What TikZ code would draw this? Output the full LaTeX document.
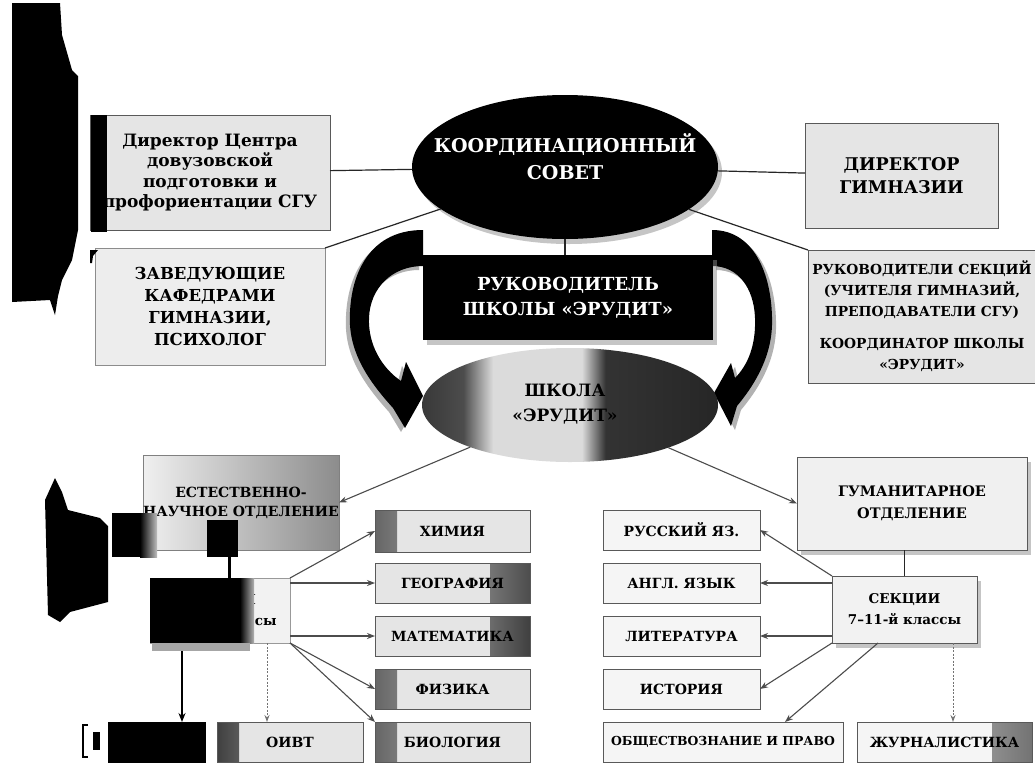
\documentclass[tikz,border=0pt]{standalone}
\usepackage{fontspec}
\setmainfont{DejaVu Serif}
\usetikzlibrary{arrows.meta,shapes.geometric,shadows,calc}
\pgfdeclarehorizontalshading{schoolsh}{100bp}{color(0bp)=(black!78); color(25bp)=(black!78); color(32bp)=(black!70); color(37bp)=(black!14); color(52bp)=(black!14); color(56bp)=(black!80); color(75bp)=(black!85); color(100bp)=(black!85)}
\begin{document}
\begin{tikzpicture}[x=1pt,y=-1pt,
  every node/.style={inner sep=0pt, outer sep=0pt},
  fs/.style n args={2}{font={\bfseries\fontsize{#1}{#2}\selectfont}},
  box/.style={draw=black!65, line width=0.9pt, fill=black!10, align=center, anchor=north west, font=\bfseries},
  wbox/.style={box, fill=black!4},
  conn/.style={line width=1.2pt, black!85},
  arr/.style={line width=1.1pt, black!70, -{Stealth[length=8pt,width=6pt]}},
  darr/.style={line width=1pt, black!55, dash pattern=on 2pt off 1.5pt, -{Stealth[length=7pt,width=5pt]}},
  shad/.style={drop shadow={shadow xshift=4pt, shadow yshift=-5pt, fill=black!45, opacity=0.5}},
  lstrip/.style={path picture={\shade[left color=black!#1, right color=black!8] (path picture bounding box.south west) rectangle ([xshift=22pt]path picture bounding box.north west);}},
  rstrip/.style={path picture={\shade[left color=black!8, right color=black!#1] ([xshift=-40pt]path picture bounding box.south east) rectangle (path picture bounding box.north east);}},
]
\useasboundingbox (0,0) rectangle (1035,766);
\fill[white] (0,0) rectangle (1035,766);

% ---------- upper level ----------
\node[box, minimum width=240pt, minimum height=115pt, fs={17}{20.5}] (dcp) at (90,115) {Директор Центра\\довузовской\\подготовки и\\профориентации СГУ};
\node[box, fill=black!7, draw=black!45, minimum width=230pt, minimum height=117pt, fs={16.5}{22}] (zav) at (95,248) {ЗАВЕДУЮЩИЕ\\КАФЕДРАМИ\\ГИМНАЗИИ,\\ПСИХОЛОГ};
\node[box, minimum width=193pt, minimum height=105pt, fs={17.5}{23}] (dir) at (805,123) {ДИРЕКТОР\\ГИМНАЗИИ};
\node[box, minimum width=228pt, minimum height=133pt, fs={13.8}{21}] (rukov) at (808,250) {РУКОВОДИТЕЛИ СЕКЦИЙ\\(УЧИТЕЛЯ ГИМНАЗИЙ,\\ПРЕПОДАВАТЕЛИ СГУ)\\[11pt]КООРДИНАТОР ШКОЛЫ\\«ЭРУДИТ»};

\node[ellipse, fill=black, minimum width=306pt, minimum height=144pt, shad] (koord) at (565,167) {};
\node[text=white, fs={19}{27}, align=center] (koordt) at (565,157) {КООРДИНАЦИОННЫЙ\\СОВЕТ};

\draw[conn] (dcp) -- (koord);
\draw[conn] (zav.north east) -- (koord);
\draw[conn] (koord) -- (dir);
\draw[conn] (koord) -- (rukov.north west);

% ---------- curved arrows ----------
\fill[black!30] (419,234) .. controls (362,234) and (344,284) .. (346,329)
 .. controls (348,364) and (371,392) .. (389,412) -- (401,432) -- (419,400) -- (402,366) -- (397,385)
 .. controls (378,372) and (364,349) .. (365,322) .. controls (366,292) and (388,270) .. (419,270) -- cycle;
\fill[black] (423,230) .. controls (366,230) and (348,280) .. (350,325)
 .. controls (352,360) and (375,388) .. (393,408) -- (405,428) -- (423,396) -- (406,362) -- (401,381)
 .. controls (382,368) and (368,345) .. (369,318) .. controls (370,288) and (392,266) .. (423,266) -- cycle;
\fill[black!30] (716,234) .. controls (761,234) and (777,284) .. (776,329)
 .. controls (775,364) and (756,392) .. (741,410) -- (735,430) -- (718,397) -- (735,367) -- (739,382)
 .. controls (752,369) and (760,349) .. (759,322) .. controls (758,292) and (742,270) .. (716,270) -- cycle;
\fill[black] (712,230) .. controls (757,230) and (773,280) .. (772,325)
 .. controls (771,360) and (752,388) .. (737,406) -- (731,426) -- (714,393) -- (731,363) -- (735,378)
 .. controls (748,365) and (756,345) .. (755,318) .. controls (754,288) and (738,266) .. (712,266) -- cycle;

\node[rectangle, fill=black, minimum width=290pt, minimum height=85pt, anchor=north west, shad, text=white, fs={18}{25}, align=center] (lead) at (423,255) {РУКОВОДИТЕЛЬ\\ШКОЛЫ «ЭРУДИТ»};
\draw[conn] (koord.south) -- (koord.south |- lead.north);

\node[ellipse, shading=schoolsh, minimum width=296pt, minimum height=114pt] (school) at (570,405) {};
\node[fs={17}{25}, align=center] (schoolt) at (565,404) {ШКОЛА\\«ЭРУДИТ»};

% ---------- left branch ----------
\node[box, left color=black!6, right color=black!45, draw=black!50, minimum width=196pt, minimum height=95pt, fs={14}{19}] (est) at (143,455) {ЕСТЕСТВЕННО-\\НАУЧНОЕ ОТДЕЛЕНИЕ};
\draw[arr] (school) -- (est.east);

\node[box, fill=black!5, draw=black!40, minimum width=140pt, minimum height=65pt, fs={13.5}{21}] (sekL) at (150,578) {СЕКЦИИ\\7–11-й классы};
\draw[line width=3pt] ([xshift=9pt]sekL.north) -- ([xshift=9pt]sekL.north |- est.south);

\node[box, lstrip=60, minimum width=155pt, minimum height=42pt, fs={14}{16}] (him) at (375,510) {ХИМИЯ};
\node[box, lstrip=60, rstrip=70, minimum width=155pt, minimum height=40pt, fs={14}{16}] (geo) at (375,563) {ГЕОГРАФИЯ};
\node[box, lstrip=60, rstrip=75, minimum width=155pt, minimum height=40pt, fs={14}{16}] (mat) at (375,616) {МАТЕМАТИКА};
\node[box, lstrip=60, minimum width=155pt, minimum height=40pt, fs={14}{16}] (fiz) at (375,669) {ФИЗИКА};
\node[box, lstrip=60, minimum width=155pt, minimum height=40pt, fs={14}{16}] (bio) at (375,722) {БИОЛОГИЯ};

\node[box, fill=black, draw=black, minimum width=97pt, minimum height=40pt] (blk) at (108,722) {};
\node[box, lstrip=75, minimum width=146pt, minimum height=40pt, fs={14}{16}] (oivt) at (217,722) {ОИВТ};

\draw[arr] (sekL.north east) -- (him.west);
\draw[arr] (sekL.east |- geo.west) -- (geo.west);
\draw[arr] (sekL.east |- mat.west) -- (mat.west);
\draw[arr] (sekL.south east) -- (fiz.west);
\draw[arr] (sekL.south east) -- (bio.north west);
\draw[line width=2pt, -{Stealth[length=9pt,width=7pt]}] ([xshift=-38pt]sekL.south) -- ([xshift=25.5pt]blk.north);
\draw[darr] ([xshift=47pt]sekL.south) -- ([xshift=-23pt]oivt.north);

% scan marks over the left branch
\fill[black] (150,578) rectangle (240,643);
\shade[left color=black, right color=black!30] (240,578) rectangle (254,643);
\fill[black!35] (152,643) rectangle (250,651);
\fill[black] (112,513) rectangle (140,557);
\shade[left color=black, right color=black!25] (140,513) rectangle (157,557);
\fill[black] (207,520) rectangle (238,557);
\fill[black] (45,500) -- (55,478) -- (62,492) -- (68,510) -- (100,518) -- (108,526) -- (108,602) -- (70,612) -- (60,622) -- (48,615) -- cycle;
\draw[line width=1.2pt] (88,725) -- (83,725) -- (83,757) -- (88,757);
\fill[black] (93,732) rectangle (100,750);

% ---------- right branch ----------
\node[box, fill=black!6, minimum width=230pt, minimum height=93pt, fs={14.5}{22}, shad] (gum) at (797,457) {ГУМАНИТАРНОЕ\\ОТДЕЛЕНИЕ};
\draw[arr] (school) -- (gum.west);
\node[box, fill=black!5, minimum width=145pt, minimum height=67pt, fs={13.5}{21}, shad] (sekR) at (832,576) {СЕКЦИИ\\7–11-й классы};
\draw[conn] (sekR.north) -- (sekR.north |- gum.south);

\node[wbox, minimum width=157pt, minimum height=40pt, fs={14}{16}] (rus) at (603,510) {РУССКИЙ ЯЗ.};
\node[wbox, minimum width=157pt, minimum height=40pt, fs={14}{16}] (angl) at (603,563) {АНГЛ. ЯЗЫК};
\node[wbox, minimum width=157pt, minimum height=40pt, fs={14}{16}] (lit) at (603,616) {ЛИТЕРАТУРА};
\node[wbox, minimum width=157pt, minimum height=40pt, fs={14}{16}] (ist) at (603,669) {ИСТОРИЯ};
\node[wbox, minimum width=240pt, minimum height=40pt, fs={12.4}{16}] (obsh) at (603,722) {ОБЩЕСТВОЗНАНИЕ И ПРАВО};
\node[wbox, rstrip=55, minimum width=175pt, minimum height=40pt, fs={14}{16}] (jur) at (857,722) {ЖУРНАЛИСТИКА};

\draw[arr] (sekR.north west) -- (rus.east);
\draw[arr] (sekR.west |- angl.east) -- (angl.east);
\draw[arr] (sekR.west |- lit.east) -- (lit.east);
\draw[arr] (sekR.south west) -- (ist.east);
\draw[arr] ([xshift=-26.5pt]sekR.south) -- ([xshift=62pt]obsh.north);
\draw[darr] ([xshift=48.5pt]sekR.south) -- ([xshift=8.5pt]jur.north);

% ---------- scan marks at the top left ----------
\fill[black] (12,3) -- (60,3) -- (62,35) -- (72,70) -- (78,76) -- (78,230) -- (72,260) -- (62,280) -- (58,296) -- (55,315) -- (50,300) -- (12,302) -- cycle;
\fill[black] (91,115) rectangle (107,232);
\fill[black] (90,250) -- (98,250) -- (93,256) -- (92,263) -- (90,263) -- cycle;
\end{tikzpicture}
\end{document}
